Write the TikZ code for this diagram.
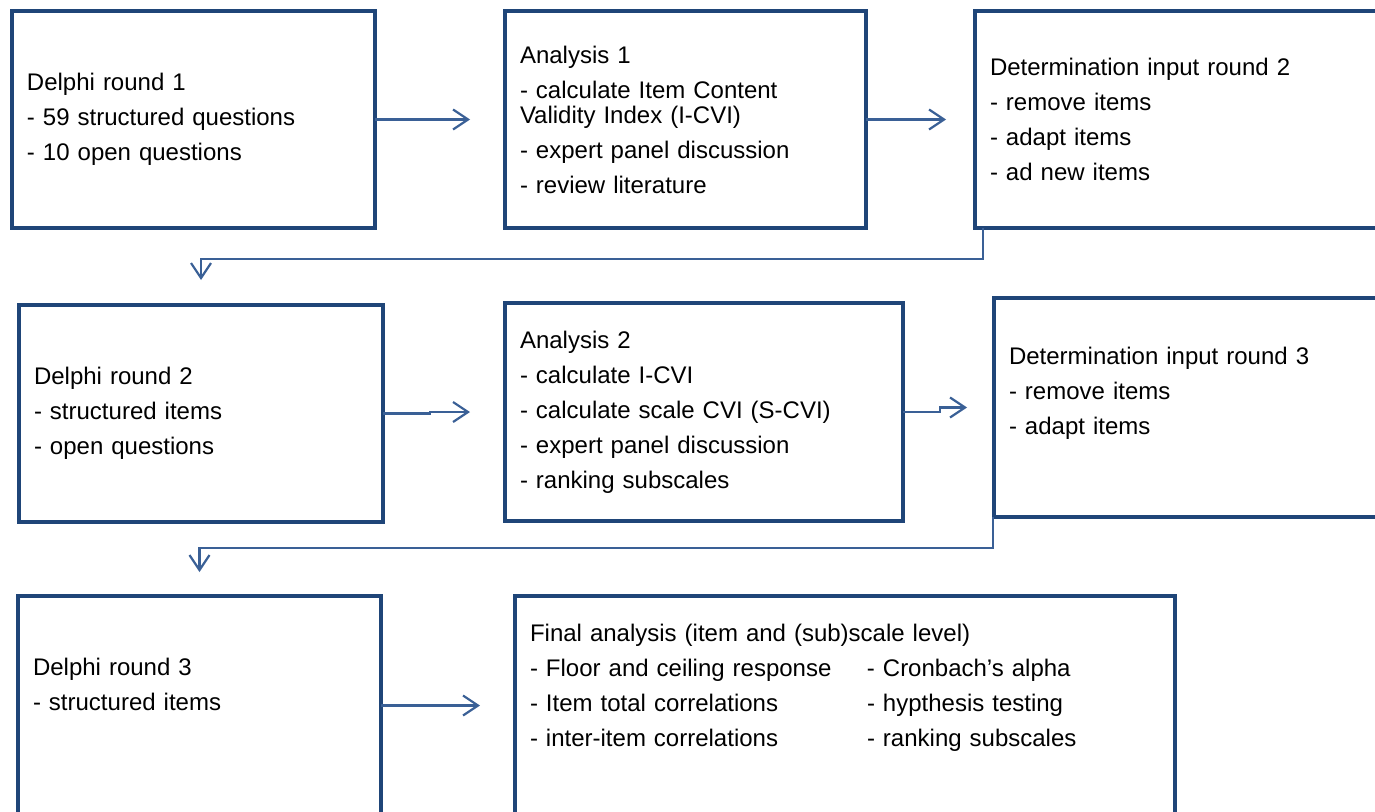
\documentclass[tikz,border=0pt]{standalone}
\usepackage{fontspec}
\setmainfont{Liberation Sans}
\usetikzlibrary{arrows.meta}
\usetikzlibrary{positioning}
\definecolor{boxblue}{RGB}{31,69,120}
\definecolor{arrowblue}{RGB}{58,96,150}

\begin{document}
\begin{tikzpicture}[x=1pt,y=-1pt,
  every node/.style={font=\fontsize{24}{35}\selectfont},
  box/.style={draw=boxblue,line width=4pt,outer sep=0pt,inner xsep=15pt,inner ysep=0pt,align=left},
  arr/.style={draw=arrowblue,line width=2.2pt,-{Straight Barb[length=15pt,width=20pt]}}]
  \useasboundingbox (0,0) rectangle (1375,811);
  \clip (0,0) rectangle (1375,811);

  \node (del1) at (193.5,119.5)[box,text width=333pt,minimum height=217pt]{Delphi round 1\\- 59 structured questions\\- 10 open questions};
  \node (an1) at (685.5,119.5)[box,text width=331pt,minimum height=217pt]{Analysis 1\\- calculate Item Content\\[-10pt]Validity Index (I-CVI)\\- expert panel discussion\\- review literature};
  \node (det2) at (1197.5,119.5)[box,text width=415pt,minimum height=217pt]{Determination input round 2\\- remove items\\- adapt items\\- ad new items};

  \node (del2) at (201,413.5)[box,text width=334pt,minimum height=217pt]{Delphi round 2\\- structured items\\- open questions};
  \node (an2) at (704,412)[box,text width=368pt,minimum height=218pt]{Analysis 2\\- calculate I-CVI\\- calculate scale CVI (S-CVI)\\- expert panel discussion\\- ranking subscales};
  \node (det3) at (1207,407.5)[box,text width=396pt,minimum height=219pt,text depth=102.5pt]{Determination input round 3\\- remove items\\- adapt items};

  \node (del3) at (199.5,705.5)[box,text width=333pt,minimum height=219pt,text depth=76.5pt]{Delphi round 3\\- structured items};
  \node (fin) at (845,705.5)[box,text width=630pt,minimum height=219pt,text depth=144.5pt]{Final analysis (item and (sub)scale level)\\
    \makebox[337pt][l]{- Floor and ceiling response}- Cronbach's alpha\\
    \makebox[337pt][l]{- Item total correlations}- hypthesis testing\\
    \makebox[337pt][l]{- inter-item correlations}- ranking subscales};

  \draw[arr,shorten >=35pt](del1)--(an1);
  \draw[arr,shorten >=29pt](an1)--(det2);
  \draw[arr,shorten >=25pt]([xshift=8pt]det2.south west)--++(0,31)-|(del2.north);
  \draw[arr,shorten >=35pt](del2.east)--++(47,0)|-(an2.west);
  \draw[arr,shorten >=27pt](an2.east)--++(37,0)|-(det3.west);
  \draw[arr,shorten >=24pt]([xshift=-1pt]det3.south west)--++(0,31)-|(del3.north);
  \draw[arr,shorten >=35pt](del3)--(fin);
\end{tikzpicture}
\end{document}
